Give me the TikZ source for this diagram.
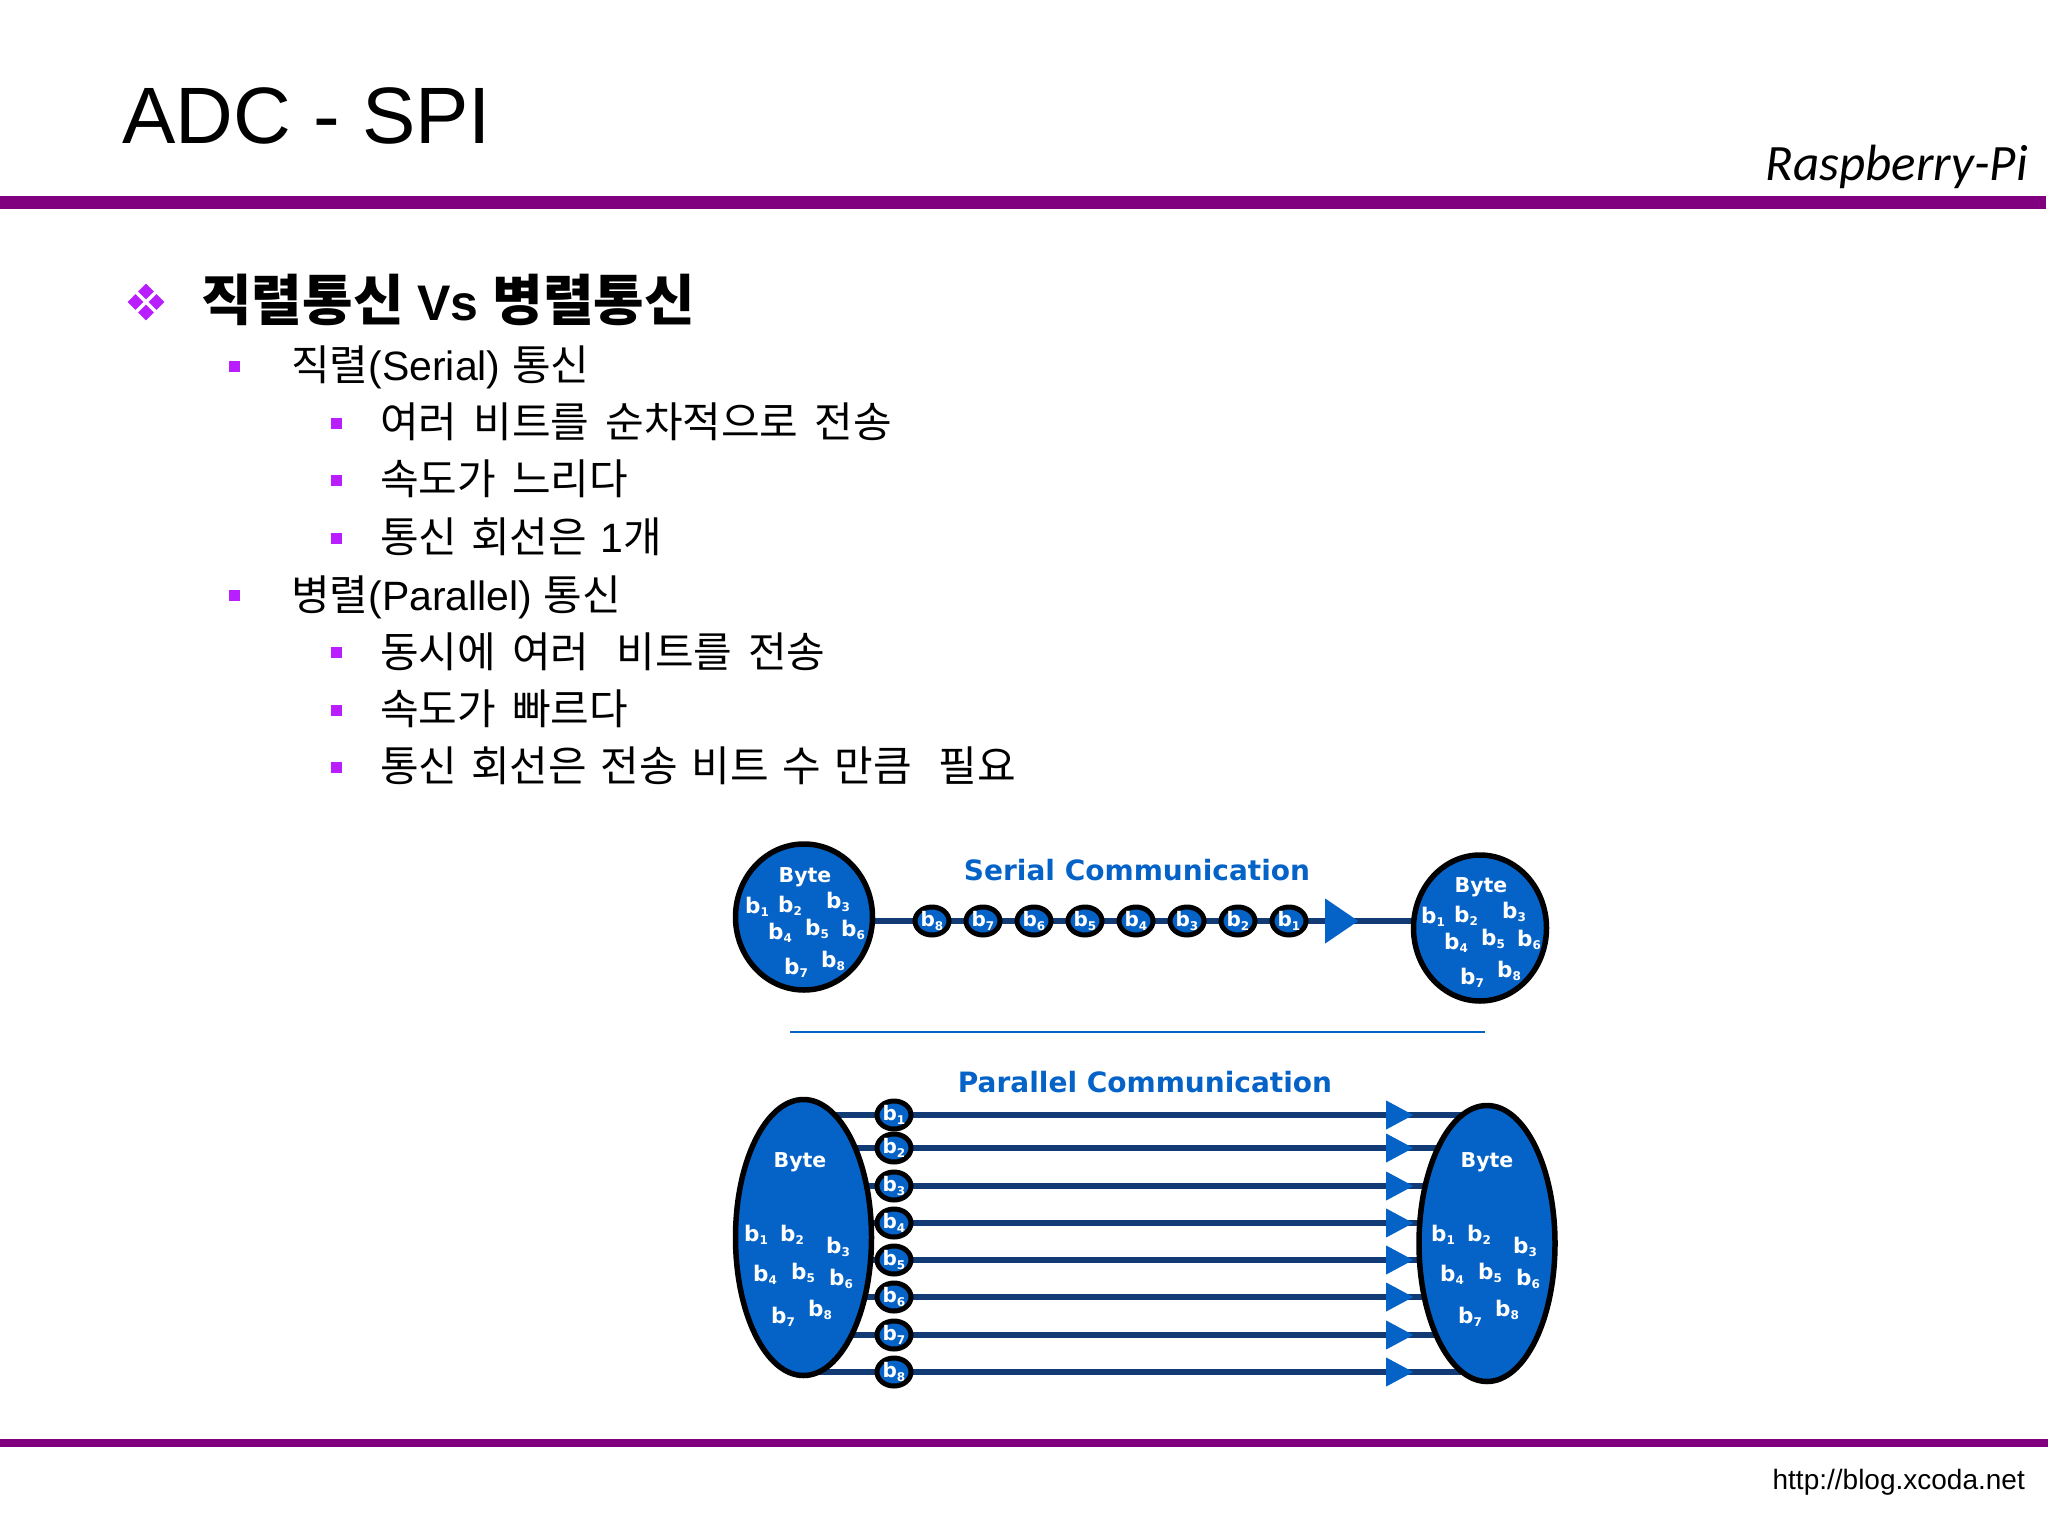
\documentclass[tikz,border=0pt]{standalone}
\usepackage{fontspec}
\setmainfont{Liberation Sans}
\newfontfamily\krfont{Noto Sans CJK KR}
\newfontfamily\vbfont{DejaVu Sans}
\newfontfamily\cbfont{Carlito}
\usetikzlibrary{shapes.geometric,backgrounds}
\definecolor{slidebar}{HTML}{800080}
\definecolor{bulletcol}{HTML}{B91EFF}
\definecolor{byteblue}{HTML}{0563C8}
\definecolor{wirecol}{HTML}{123A74}
\newcommand{\kt}[1]{{\fontsize{42}{42}\krfont\selectfont\spaceskip=16pt\relax #1}}
\newcommand{\kh}[1]{{\fontsize{55}{55}\krfont\bfseries\selectfont #1}}
\newcommand{\bitsub}[1]{b\raisebox{-0.3ex}{\fontsize{12}{12}\selectfont #1}}
\tikzset{
  x=1pt, y=-1pt,
  bar/.style={fill=slidebar, draw=none},
  sq/.style={rectangle, fill=bulletcol, minimum size=11pt, inner sep=0pt},
  dia/.style={diamond, fill=bulletcol, minimum size=16pt, inner sep=0pt},
  lv/.style={anchor=base west, inner sep=0pt, font=\fontsize{41}{41}\selectfont},
  byte/.style={ellipse, draw=black, line width=5.5pt, fill=byteblue, inner sep=0pt},
  bead/.style={ellipse, draw=black, line width=5pt, fill=byteblue, inner sep=0pt,
    minimum width=34pt, minimum height=28pt, text=white,
    font=\fontsize{20}{20}\vbfont\bfseries\selectfont},
  bytetxt/.style={text=white, inner sep=0pt, font=\fontsize{20.5}{20.5}\vbfont\bfseries\selectfont},
  bittxt/.style={text=white, inner sep=0pt, font=\fontsize{21.5}{21.5}\vbfont\bfseries\selectfont},
  captxt/.style={text=byteblue, inner sep=0pt, font=\fontsize{28}{28}\vbfont\bfseries\selectfont},
  wire/.style={draw=wirecol, line width=5.5pt},
  tip/.style={isosceles triangle, isosceles triangle stretches, fill=byteblue, inner sep=0pt, anchor=lower side}
}
\begin{document}
\begin{tikzpicture}
    \useasboundingbox (0,0) rectangle (2048,1536);

    \node[anchor=base west, inner sep=0pt, font=\fontsize{80}{80}\selectfont] (title) at (122,144) {ADC - SPI};
    \node[anchor=base east, inner sep=0pt, font=\fontsize{51}{51}\cbfont\itshape\selectfont] (tag) at (2028,180) {Raspberry-Pi};
    \node[anchor=base east, inner sep=0pt, font=\fontsize{28}{28}\selectfont] (url) at (2025,1489) {http://blog.xcoda.net};
    \fill[bar] (0,196) rectangle (2046,209);
    \fill[bar] (0,1439) rectangle (2048,1447);

    \foreach \dx/\dy [count=\i] in {0/-10.5, 10.5/0, 0/10.5, -10.5/0}
        \node[dia] (d\i) at (146+\dx,302+\dy) {};
    \node[anchor=base west, inner sep=0pt, font=\fontsize{50}{50}\bfseries\selectfont] (head) at (201,320)
        {\kh{직렬통신} Vs \kh{병렬통신}};

    \node[sq] (s1) at (234,366) {};
    \node[lv] (t1) at (291,380) {\kt{직렬}(Serial) \kt{통신}};
    \node[sq] (s2) at (336,423) {};
    \node[lv] (t2) at (380,437) {\kt{여러 비트를 순차적으로 전송}};
    \node[sq] (s3) at (336,480) {};
    \node[lv] (t3) at (380,494) {\kt{속도가 느리다}};
    \node[sq] (s4) at (336,538) {};
    \node[lv] (t4) at (380,552) {\kt{\spaceskip=13.6pt\relax 통신 회선은 }1\kt{개}};
    \node[sq] (s5) at (234,595) {};
    \node[lv] (t5) at (291,610) {\kt{병렬}(Parallel) \kt{통신}};
    \node[sq] (s6) at (336,652) {};
    \node[lv] (t6) at (380,667) {\kt{동시에 여러 \hspace{11pt}비트를 전송}};
    \node[sq] (s7) at (336,710) {};
    \node[lv] (t7) at (380,724) {\kt{속도가 빠르다}};
    \node[sq] (s8) at (336,767) {};
    \node[lv] (t8) at (380,781) {\kt{\spaceskip=13.6pt\relax 통신 회선은 전송 비트 수 만큼 \hspace{13.4pt}필요}};

    \node[captxt] (sertitle) at (1137,870) {Serial Communication};
    \node[captxt] (partitle) at (1145,1082) {Parallel Communication};
    \coordinate (ruleA) at (790,1032);
    \coordinate (ruleB) at (1485,1032);
    \draw[byteblue, line width=1.5pt] (ruleA) -- (ruleB);

    \node[byte, minimum width=137pt, minimum height=146pt] (serA) at (804,917) {};
    \node[byte, minimum width=133pt, minimum height=146pt] (serB) at (1480,928) {};
    \foreach \n [count=\i] in {8,7,6,5,4,3,2,1}
        \node[bead] (sb\n) at (881+51*\i,921) {\bitsub{\n}};
    \node[tip, minimum width=45pt, minimum height=33pt] (sertip) at (1325,921) {};
    \begin{scope}[on background layer]
        \draw[wire] (sb8 -| serA.center) -- (sb1 -| serB.center);
    \end{scope}

    \node[byte, minimum width=136pt, minimum height=276pt] (parA) at (803.5,1237.5) {};
    \node[byte, minimum width=136pt, minimum height=276pt] (parB) at (1487,1243.5) {};
    \foreach \y [count=\i] in {1115,1148,1186,1223,1260,1297,1335,1372} {
        \node[bead] (pb\i) at (894,\y) {\bitsub{\i}};
        \node[tip, minimum width=29pt, minimum height=27pt] (ptip\i) at (1386,\y) {};
    }
    \begin{scope}[on background layer]
        \foreach \i in {1,...,8}
            \draw[wire] (pb\i -| parA.center) -- (pb\i -| parB.center);
    \end{scope}

    \foreach \ox/\oy/\name in {0/0/a, 676/10/b} {
        \node[bytetxt] (sby\name) at (805+\ox,877+\oy) {Byte};
        \foreach \px/\py [count=\i] in {757/907, 790/906, 838/902, 780/933, 817/929, 853/930, 796/968, 833/961}
            \node[bittxt] (sl\name\i) at (\px+\ox,\py+\oy) {\bitsub{\i}};
    }
    \foreach \ox/\name in {0/a, 687/b} {
        \node[bytetxt] (pby\name) at (800+\ox,1162) {Byte};
        \foreach \px/\py [count=\i] in {756/1235, 792/1235, 838/1247, 765/1275, 803/1273, 841/1279, 783/1317, 820/1310}
            \node[bittxt] (pl\name\i) at (\px+\ox,\py) {\bitsub{\i}};
    }
\end{tikzpicture}
\end{document}
